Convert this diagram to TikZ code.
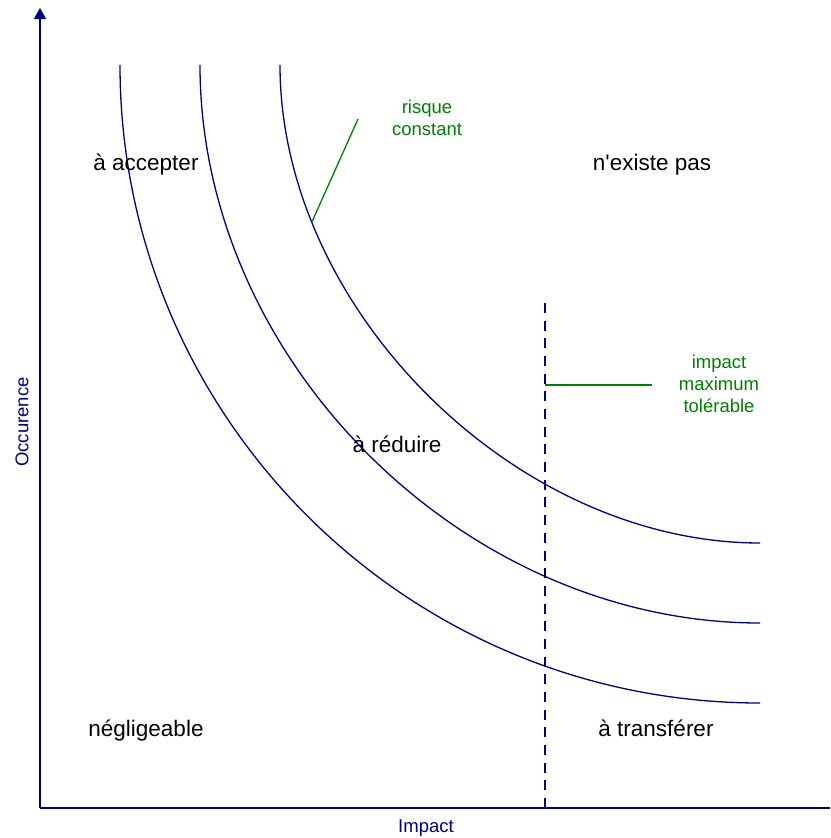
\documentclass[tikz,border=0pt]{standalone}
\usepackage{fontspec}
\setmainfont{Liberation Sans}
\usetikzlibrary{arrows.meta}
\definecolor{axisblue}{HTML}{000080}
\definecolor{lblgreen}{HTML}{008000}
\begin{document}
\begin{tikzpicture}[x=1pt,y=-1pt,
  zone/.style={font=\fontsize{22.5}{27}\selectfont, text=black, inner sep=0pt, anchor=base},
  note/.style={font=\fontsize{18.5}{22.3}\selectfont, text=lblgreen, align=center, inner sep=0pt},
  axlabel/.style={font=\fontsize{18.5}{22}\selectfont, text=axisblue, inner sep=0pt},
  axisline/.style={draw=axisblue, line width=1.6pt},
  riskcurve/.style={draw=axisblue, line width=1.3pt},
  limitline/.style={draw=axisblue, line width=1.5pt, dash pattern=on 10pt off 7.68pt},
  pointer/.style={draw=lblgreen, line width=1.3pt}]
\useasboundingbox (0,0) rectangle (830,838);
\fill[white] (0,0) rectangle (830,838);
% axes
\coordinate (O) at (40,808);
\coordinate (ytop) at (40,8);
\coordinate (xend) at (830,808);
\draw[axisline] (O) -- (xend);
\draw[axisline, -{Triangle[width=12pt,length=11pt]}] (O) -- (ytop);
\node[axlabel, rotate=90] (occ) at (22,422) {Occurence};
\node[axlabel] (imp) at (426,828) {Impact};
% iso-risk curves
\draw[riskcurve] (120,65) .. controls (120,417.2) and (406.7,703) .. (760,703);
\draw[riskcurve] (200,65) .. controls (200,360.7) and (463.2,623) .. (760,623);
\draw[riskcurve] (280,65) .. controls (280,309.3) and (515.2,543) .. (760,543)
  coordinate[pos=0.22] (c3p);
% maximum tolerable impact
\coordinate (dtop) at (545,303);
\coordinate (dbot) at (545,808);
\coordinate (dmid) at (545,385);
\coordinate (gend) at (652,385);
\draw[limitline] (dtop) -- (dbot);
\draw[pointer] (dmid) -- (gend);
% risk-constant pointer
\coordinate (rend) at (358,119);
\draw[pointer] (c3p) -- (rend);
% notes
\node[note] (risk) at (427,118) {risque\\constant};
\node[note] (tol) at (719,384) {impact\\maximum\\tolérable};
% zones
\node[zone] (acc) at (146,170.5) {à accepter};
\node[zone] (nex) at (652,170.5) {n\textquotesingle existe pas};
\node[zone] (red) at (397,452.5) {à réduire};
\node[zone] (neg) at (146,736.5) {négligeable};
\node[zone] (tra) at (656,736.5) {à transférer};
\end{tikzpicture}
\end{document}
